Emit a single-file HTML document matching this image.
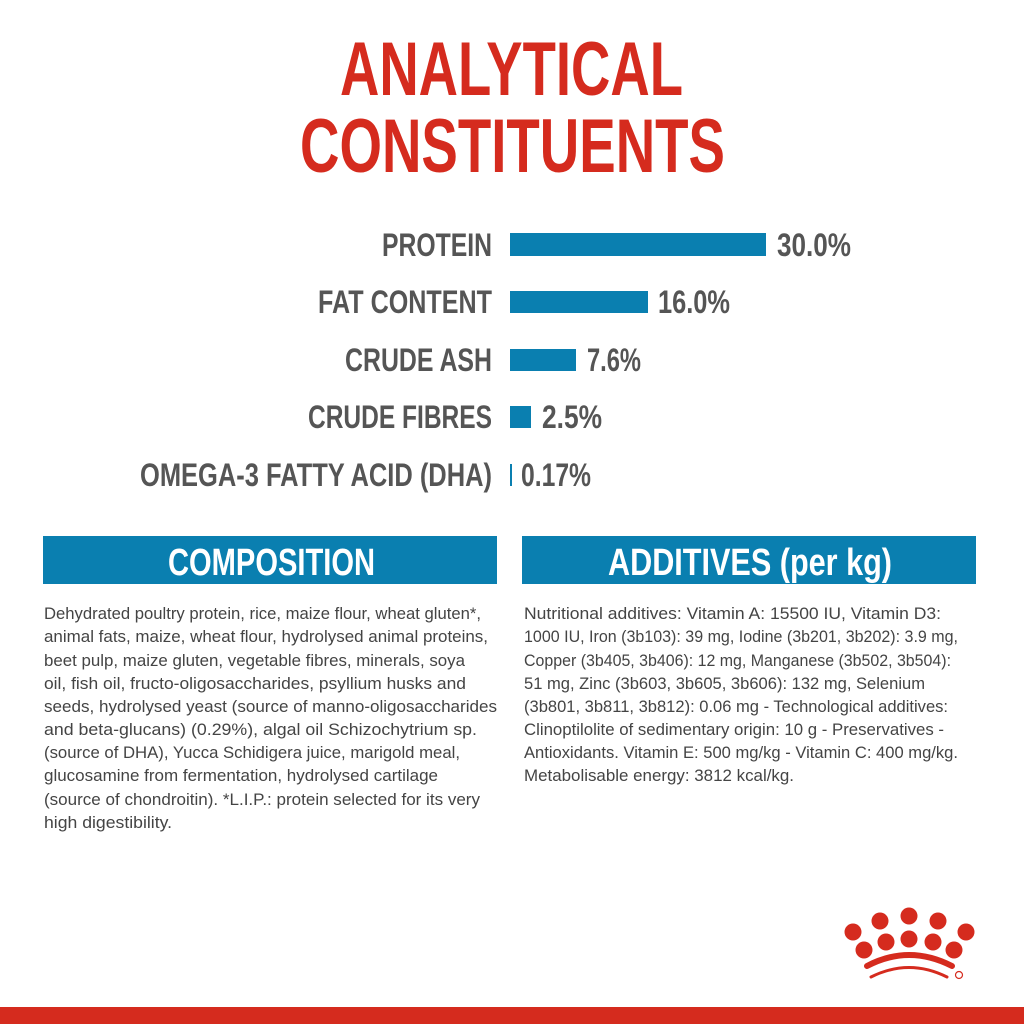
<!DOCTYPE html>
<html><head><meta charset="utf-8"><style>
html,body{margin:0;padding:0;background:#fff;width:1024px;height:1024px;overflow:hidden}
svg{display:block}
</style></head><body>
<svg width="1024" height="1024" viewBox="0 0 1024 1024" xmlns="http://www.w3.org/2000/svg" font-family="Liberation Sans, sans-serif">
<rect width="1024" height="1024" fill="#fff"/>
<g fill="#d52b1e" font-size="76" font-weight="bold">
<text x="340" y="95" textLength="343" lengthAdjust="spacingAndGlyphs">ANALYTICAL</text>
<text x="300" y="172" textLength="425" lengthAdjust="spacingAndGlyphs">CONSTITUENTS</text>
</g>
<g fill="#555" font-size="32" font-weight="bold">
<text x="382" y="256" textLength="110" lengthAdjust="spacingAndGlyphs">PROTEIN</text>
<text x="318" y="313" textLength="174" lengthAdjust="spacingAndGlyphs">FAT CONTENT</text>
<text x="345" y="371" textLength="147" lengthAdjust="spacingAndGlyphs">CRUDE ASH</text>
<text x="308" y="428" textLength="184" lengthAdjust="spacingAndGlyphs">CRUDE FIBRES</text>
<text x="140" y="486" textLength="352" lengthAdjust="spacingAndGlyphs">OMEGA-3 FATTY ACID (DHA)</text>
<text x="777" y="256" textLength="74" lengthAdjust="spacingAndGlyphs">30.0%</text>
<text x="658" y="313" textLength="72" lengthAdjust="spacingAndGlyphs">16.0%</text>
<text x="587" y="371" textLength="54" lengthAdjust="spacingAndGlyphs">7.6%</text>
<text x="542" y="428" textLength="60" lengthAdjust="spacingAndGlyphs">2.5%</text>
<text x="521" y="486" textLength="70" lengthAdjust="spacingAndGlyphs">0.17%</text>
</g>
<g fill="#0a7fb0">
<rect x="510" y="233" width="256" height="23"/>
<rect x="510" y="291" width="138" height="22"/>
<rect x="510" y="349" width="66" height="22"/>
<rect x="510" y="406" width="21" height="22"/>
<rect x="510" y="464" width="2" height="22"/>
<rect x="43" y="536" width="454" height="48"/>
<rect x="522" y="536" width="454" height="48"/>
</g>
<g fill="#fff" font-size="38" font-weight="bold">
<text x="168" y="575" textLength="207" lengthAdjust="spacingAndGlyphs">COMPOSITION</text>
<text x="608" y="575" textLength="284" lengthAdjust="spacingAndGlyphs">ADDITIVES (per kg)</text>
</g>
<g fill="#444" font-size="17">
<text x="44" y="619" textLength="437" lengthAdjust="spacingAndGlyphs">Dehydrated poultry protein, rice, maize flour, wheat gluten*,</text>
<text x="44" y="642" textLength="444" lengthAdjust="spacingAndGlyphs">animal fats, maize, wheat flour, hydrolysed animal proteins,</text>
<text x="44" y="666" textLength="421" lengthAdjust="spacingAndGlyphs">beet pulp, maize gluten, vegetable fibres, minerals, soya</text>
<text x="44" y="689" textLength="422" lengthAdjust="spacingAndGlyphs">oil, fish oil, fructo-oligosaccharides, psyllium husks and</text>
<text x="44" y="712" textLength="453" lengthAdjust="spacingAndGlyphs">seeds, hydrolysed yeast (source of manno-oligosaccharides</text>
<text x="44" y="735" textLength="433" lengthAdjust="spacingAndGlyphs">and beta-glucans) (0.29%), algal oil Schizochytrium sp.</text>
<text x="44" y="758" textLength="416" lengthAdjust="spacingAndGlyphs">(source of DHA), Yucca Schidigera juice, marigold meal,</text>
<text x="44" y="781" textLength="394" lengthAdjust="spacingAndGlyphs">glucosamine from fermentation, hydrolysed cartilage</text>
<text x="44" y="805" textLength="436" lengthAdjust="spacingAndGlyphs">(source of chondroitin). *L.I.P.: protein selected for its very</text>
<text x="44" y="828" textLength="128" lengthAdjust="spacingAndGlyphs">high digestibility.</text>
<text x="524" y="619" textLength="417" lengthAdjust="spacingAndGlyphs">Nutritional additives: Vitamin A: 15500 IU, Vitamin D3:</text>
<text x="524" y="642" textLength="434" lengthAdjust="spacingAndGlyphs">1000 IU, Iron (3b103): 39 mg, Iodine (3b201, 3b202): 3.9 mg,</text>
<text x="524" y="666" textLength="427" lengthAdjust="spacingAndGlyphs">Copper (3b405, 3b406): 12 mg, Manganese (3b502, 3b504):</text>
<text x="524" y="689" textLength="401" lengthAdjust="spacingAndGlyphs">51 mg, Zinc (3b603, 3b605, 3b606): 132 mg, Selenium</text>
<text x="524" y="712" textLength="424" lengthAdjust="spacingAndGlyphs">(3b801, 3b811, 3b812): 0.06 mg - Technological additives:</text>
<text x="524" y="735" textLength="420" lengthAdjust="spacingAndGlyphs">Clinoptilolite of sedimentary origin: 10 g - Preservatives -</text>
<text x="524" y="758" textLength="434" lengthAdjust="spacingAndGlyphs">Antioxidants. Vitamin E: 500 mg/kg - Vitamin C: 400 mg/kg.</text>
<text x="524" y="781" textLength="270" lengthAdjust="spacingAndGlyphs">Metabolisable energy: 3812 kcal/kg.</text>
</g>
<g fill="#d52b1e">
<circle cx="853" cy="932" r="8.5"/><circle cx="880" cy="921" r="8.5"/><circle cx="909" cy="916" r="8.5"/><circle cx="938" cy="921" r="8.5"/><circle cx="966" cy="932" r="8.5"/>
<circle cx="864" cy="950" r="8.5"/><circle cx="886" cy="942" r="8.5"/><circle cx="909" cy="939" r="8.5"/><circle cx="933" cy="942" r="8.5"/><circle cx="954" cy="950" r="8.5"/>
<path d="M867 966 Q909 944 952 966" stroke="#d52b1e" stroke-width="6" fill="none" stroke-linecap="round"/>
<path d="M871 977 Q909 958 947 977" stroke="#d52b1e" stroke-width="3" fill="none" stroke-linecap="round"/>
<circle cx="959" cy="975" r="3.5" fill="none" stroke="#d52b1e" stroke-width="1.2"/>
<rect x="0" y="1007" width="1024" height="17"/>
</g>
</svg>
</body></html>
